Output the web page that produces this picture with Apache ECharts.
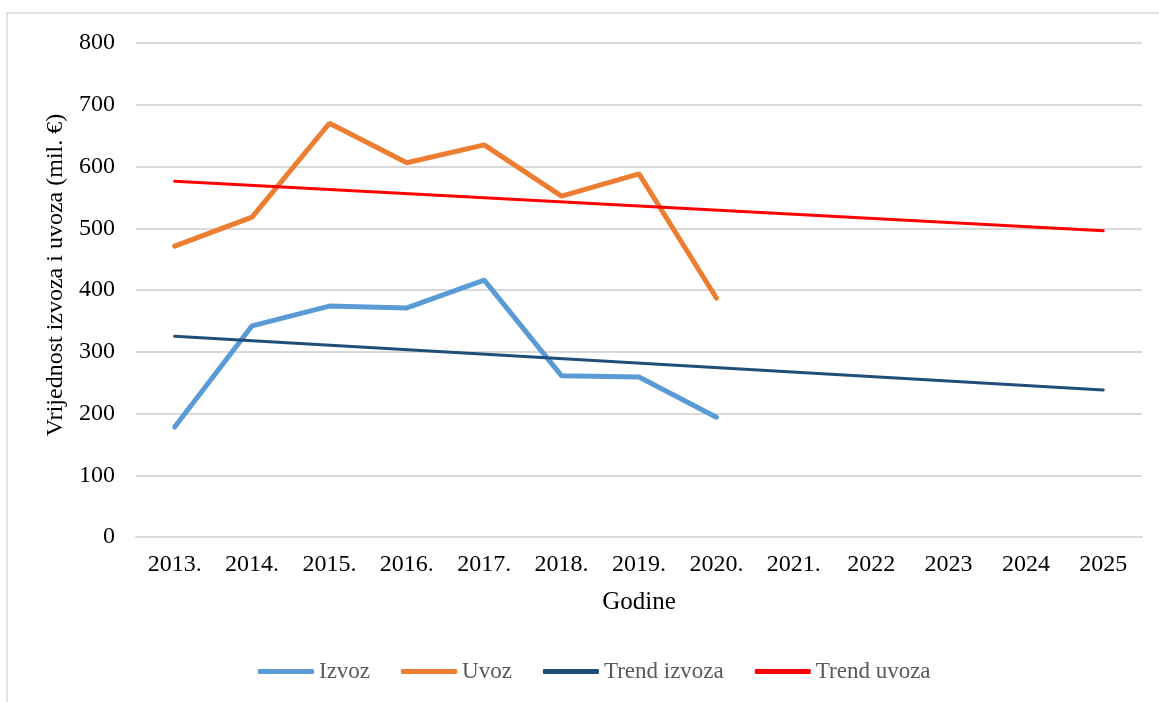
<!DOCTYPE html>
<html>
<head>
<meta charset="utf-8">
<script src="https://cdn.jsdelivr.net/npm/echarts@6/dist/echarts.min.js"></script>
<style>
*{margin:0;padding:0;}
body{background:#fff;}
#chart{width:1159px;height:702px;}
</style>
</head>
<body>
<div id="chart"></div>
<script>
// godine
var years = ['2013.', '2014.', '2015.', '2016.', '2017.', '2018.', '2019.', '2020.', '2021.', '2022', '2023', '2024', '2025']
// izvoz i uvoz (mil. €), očitano s grafa
var izvoz = [178, 342, 374, 371, 416, 261, 259, 194]
var uvoz = [471, 518, 670, 606, 635, 552, 588, 387]
// trend linije - samo krajnje točke
var trendIzvoza = [325, null, null, null, null, null, null, null, null, null, null, null, 238]
var trendUvoza = [576, null, null, null, null, null, null, null, null, null, null, null, 496]

var font = '"Liberation Serif", "Times New Roman", serif'
var chart = echarts.init(document.getElementById('chart'))
var option = {
  animation: false,
  backgroundColor: '#fff',
  graphic: [{
    type: 'rect',
    shape: {x: 7, y: 13, width: 1170, height: 710},
    style: {fill: 'none', stroke: '#d9d9d9', lineWidth: 1.5},
    silent: true
  }],
  grid: {left: 136, right: 17, top: 43, bottom: 165},
  legend: {
    top: 655,
    left: 253,
    itemWidth: 56,
    itemHeight: 5,
    itemGap: 31,
    icon: 'roundRect',
    textStyle: {fontFamily: font, fontSize: 23, color: '#595959'},
    data: ['Izvoz', 'Uvoz', 'Trend izvoza', 'Trend uvoza']
  },
  xAxis: {
    type: 'category',
    data: years,
    boundaryGap: true,
    name: 'Godine',
    nameLocation: 'middle',
    nameGap: 53,
    nameTextStyle: {fontFamily: font, fontSize: 25, color: '#000'},
    axisLine: {lineStyle: {color: '#d9d9d9', width: 2}},
    axisTick: {show: false},
    axisLabel: {fontFamily: font, fontSize: 24, color: '#000', margin: 16}
  },
  yAxis: {
    type: 'value',
    min: 0,
    max: 800,
    interval: 100,
    name: 'Vrijednost izvoza i uvoza (mil. €)',
    nameLocation: 'middle',
    nameRotate: 90,
    nameGap: 65,
    nameTextStyle: {fontFamily: font, fontSize: 24, color: '#000', padding: [0, 0, 0, 30]},
    axisLine: {show: false},
    axisTick: {show: false},
    splitLine: {lineStyle: {color: '#d9d9d9', width: 2}},
    axisLabel: {fontFamily: font, fontSize: 24, color: '#000', margin: 21}
  },
  series: [
    {
      name: 'Izvoz', type: 'line', data: izvoz, symbol: 'none',
      lineStyle: {color: '#5B9BD5', width: 5, cap: 'round'},
      itemStyle: {color: '#5B9BD5'}
    },
    {
      name: 'Uvoz', type: 'line', data: uvoz, symbol: 'none',
      lineStyle: {color: '#ED7D31', width: 5, cap: 'round'},
      itemStyle: {color: '#ED7D31'}
    },
    {
      name: 'Trend izvoza', type: 'line', data: trendIzvoza, symbol: 'none', connectNulls: true,
      lineStyle: {color: '#1F4E79', width: 3, cap: 'round'},
      itemStyle: {color: '#1F4E79'}
    },
    {
      name: 'Trend uvoza', type: 'line', data: trendUvoza, symbol: 'none', connectNulls: true,
      lineStyle: {color: '#FF0000', width: 3, cap: 'round'},
      itemStyle: {color: '#FF0000'}
    }
  ]
}
chart.setOption(option)
</script>
</body>
</html>
